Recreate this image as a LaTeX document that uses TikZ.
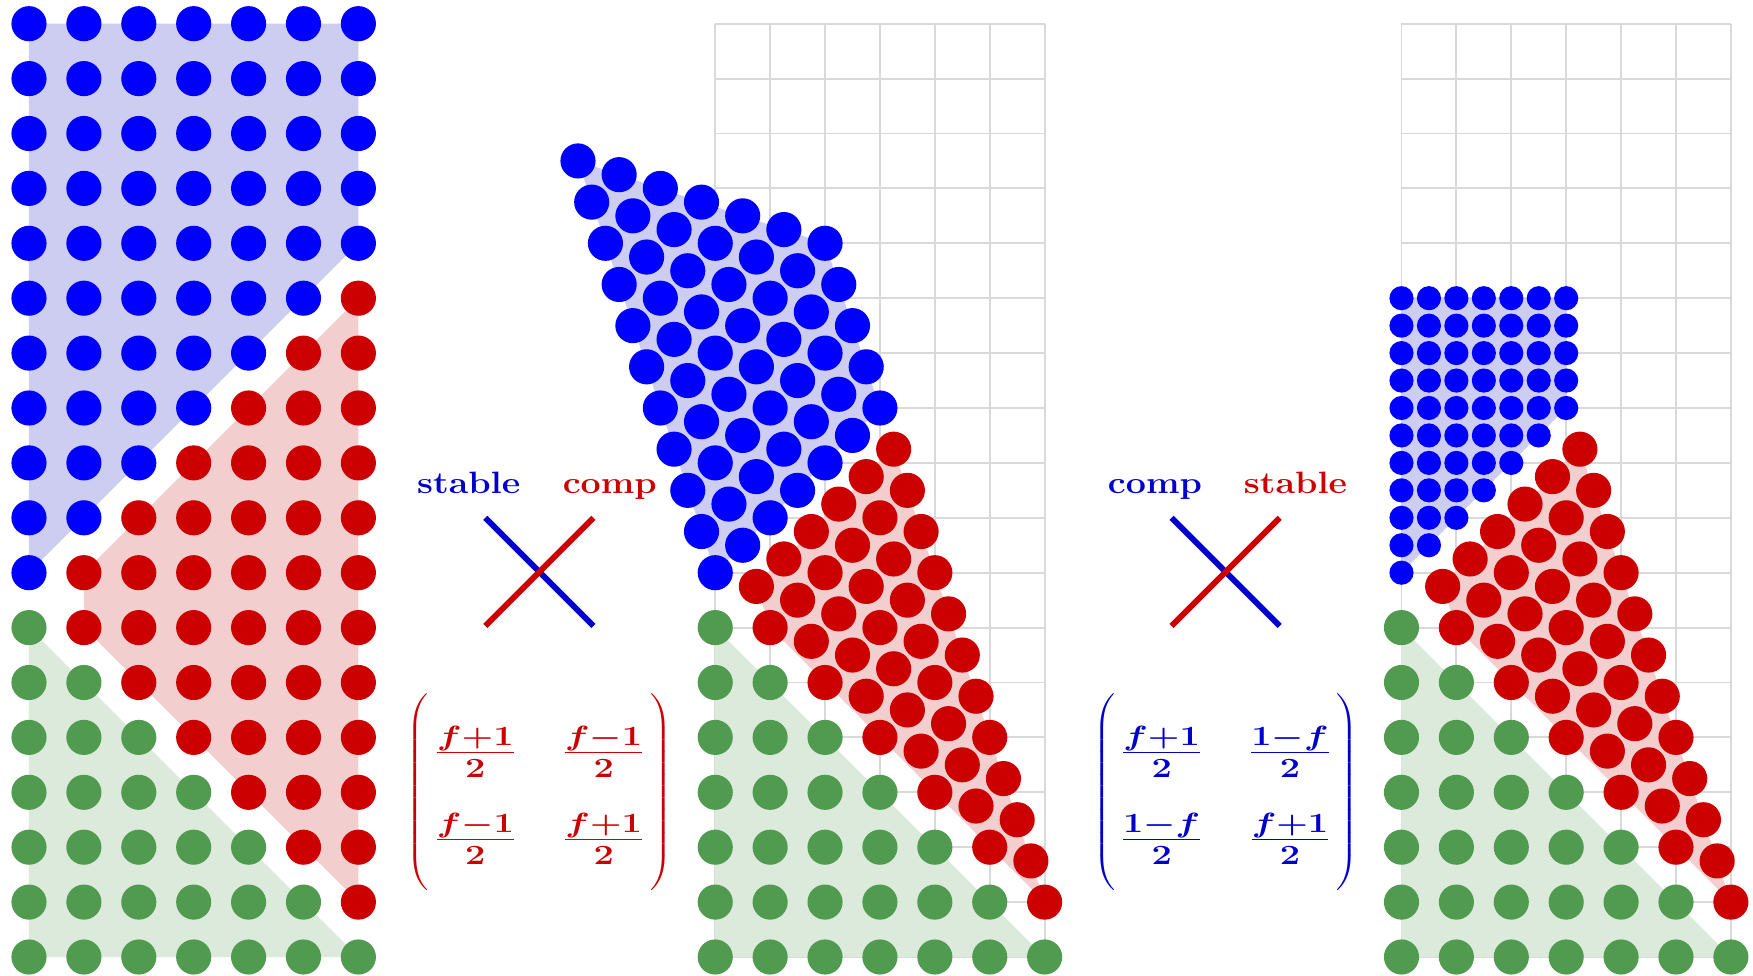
\documentclass[tikz,border=0pt]{standalone}
\usepackage{graphicx}
\definecolor{dblue}{RGB}{0,0,255}
\definecolor{dred}{RGB}{204,0,0}
\definecolor{dgreen}{RGB}{80,155,80}
\definecolor{tblue}{RGB}{0,0,204}
\definecolor{bshade}{RGB}{205,205,242}
\definecolor{rshade}{RGB}{243,206,206}
\definecolor{gshade}{RGB}{219,234,219}
\definecolor{gridc}{RGB}{217,217,217}
\newcommand{\pmatx}[4]{\scalebox{1.3}[1]{\fontsize{20}{24}\selectfont\boldmath$\left(\vcenter{\hbox{\rule{0pt}{102pt}}}\raisebox{1.8pt}{$\renewcommand{\arraystretch}{1.875}\begin{array}{@{\hspace{2pt}}c@{\hspace{18pt}}c@{\hspace{2pt}}}#1 & #2\\ #3 & #4\end{array}$}\right)$}}
\newcommand{\lbltxt}[1]{\scalebox{1.16}[1]{#1}}
\begin{document}
\begin{tikzpicture}[x=1cm,y=1cm,
  gridline/.style={draw=gridc,line width=1pt},
  lbl/.style={font=\fontsize{16}{18}\selectfont\bfseries,anchor=base,inner sep=0pt},
  crossline/.style={line width=3pt}]
\useasboundingbox (-0.528,-0.328) rectangle (31.403,17.432);
% grids
\begin{scope}[xshift=12.5cm]
\draw[gridline] (0,0) grid (6,17);
\end{scope}
\begin{scope}[xshift=25cm]
\draw[gridline] (0,0) grid (6,17);
\end{scope}
% shading
\foreach \o in {0,12.5,25}{\fill[gshade] (\o,6) -- (\o,0) -- (\o+6,0) -- cycle;}
\fill[bshade] (0,17) -- (6,17) -- (6,13) -- (0,7) -- cycle;
\fill[rshade] (1,7) -- (6,12) -- (6,1) -- (1,6) -- cycle;
\fill[bshade] (10,14.5) -- (14.5,13) -- (15.5,10) -- (12.5,7) -- cycle;
\fill[rshade] (13.25,6.75) -- (15.75,9.25) -- (18.5,1) -- (13.5,6) -- cycle;
\fill[bshade] (25,12) -- (28,12) -- (28,10) -- (25,7) -- cycle;
\fill[rshade] (25.75,6.75) -- (28.25,9.25) -- (31,1) -- (26,6) -- cycle;
% green dots
\foreach \o in {0,12.5,25}{
  \foreach \x in {0,...,6}{
    \pgfmathtruncatemacro\ym{6-\x}
    \foreach \y in {0,...,\ym}{\fill[dgreen] (\o+\x,\y) circle[radius=0.32];}
  }
}
% left red and blue
\foreach \x in {1,...,6}{
  \pgfmathtruncatemacro\ya{7-\x}
  \pgfmathtruncatemacro\yb{\x+6}
  \foreach \y in {\ya,...,\yb}{\fill[dred] (\x,\y) circle[radius=0.32];}
}
\foreach \x in {0,...,6}{
  \pgfmathtruncatemacro\ya{\x+7}
  \foreach \y in {\ya,...,17}{\fill[dblue] (\x,\y) circle[radius=0.32];}
}
% middle and right red (sheared)
\foreach \o in {12.5,25}{
  \foreach \x in {1,...,6}{
    \pgfmathtruncatemacro\ya{7-\x}
    \pgfmathtruncatemacro\yb{\x+6}
    \foreach \y in {\ya,...,\yb}{\fill[dred] ({\o+\x-0.25*(\x+\y-7)},{\y-0.25*(\x+\y-7)}) circle[radius=0.32];}
  }
}
% middle blue (sheared)
\foreach \x in {0,...,6}{
  \pgfmathtruncatemacro\ya{\x+7}
  \foreach \y in {\ya,...,17}{\fill[dblue] ({12.5+\x-0.25*(\x+\y-7)},{\y-0.25*(\x+\y-7)}) circle[radius=0.32];}
}
% right blue (shrunk)
\foreach \x in {0,...,6}{
  \pgfmathtruncatemacro\ya{\x+7}
  \foreach \y in {\ya,...,17}{\fill[dblue] ({25+0.5*\x},{7+0.5*(\y-7)}) circle[radius=0.22];}
}
% labels
\node[lbl,text=tblue] (s1) at (8.01,8.45) {\lbltxt{stable}};
\node[lbl,text=dred] (c1) at (10.58,8.45) {\lbltxt{comp}};
\node[lbl,text=tblue] (c2) at (20.51,8.45) {\lbltxt{comp}};
\node[lbl,text=dred] (s2) at (23.07,8.45) {\lbltxt{stable}};
% crosses
\coordinate (b1a) at (8.31,8.0);
\coordinate (b1b) at (10.28,6.03);
\coordinate (r1a) at (8.31,6.03);
\coordinate (r1b) at (10.28,8.0);
\coordinate (b2a) at (20.81,8.0);
\coordinate (b2b) at (22.78,6.03);
\coordinate (r2a) at (20.81,6.03);
\coordinate (r2b) at (22.78,8.0);
\draw[crossline,tblue] (b1a) -- (b1b);
\draw[crossline,dred] (r1a) -- (r1b);
\draw[crossline,tblue] (b2a) -- (b2b);
\draw[crossline,dred] (r2a) -- (r2b);
% matrices
\node[text=dred,inner sep=0pt] (m1) at (9.3,3.0) {\pmatx{\frac{f+1}{2}}{\frac{f-1}{2}}{\frac{f-1}{2}}{\frac{f+1}{2}}};
\node[text=tblue,inner sep=0pt] (m2) at (21.8,3.0) {\pmatx{\frac{f+1}{2}}{\frac{1-f}{2}}{\frac{1-f}{2}}{\frac{f+1}{2}}};
\end{tikzpicture}
\end{document}
